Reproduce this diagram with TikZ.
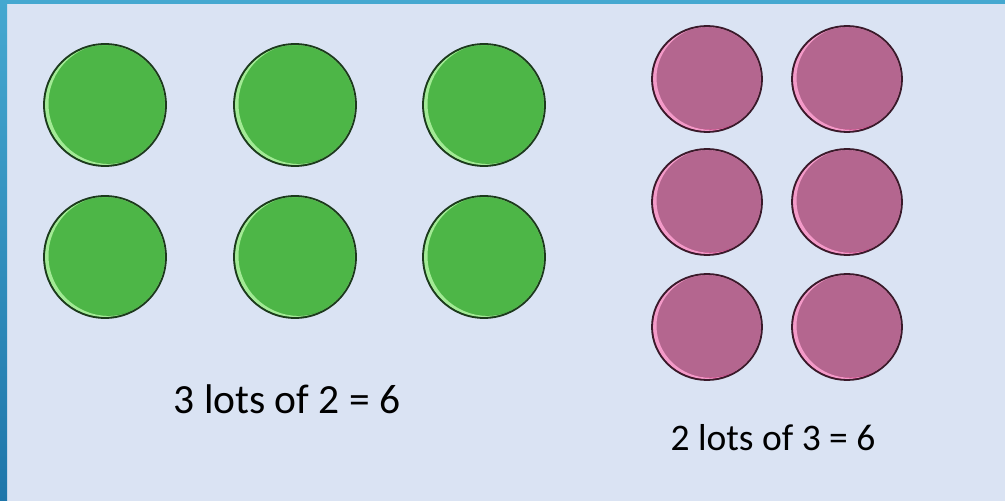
\documentclass[tikz,border=0pt]{standalone}
\usepackage{fontspec}
\setmainfont{Carlito}
\usetikzlibrary{shapes.geometric}
\definecolor{bgblue}{HTML}{DAE3F3}
\definecolor{framelight}{HTML}{45A8D0}
\definecolor{framedark}{HTML}{1E76AA}
\definecolor{countergreen}{HTML}{4DB647}
\definecolor{greenshine}{HTML}{A2EA95}
\definecolor{greenshade}{HTML}{3A9A36}
\definecolor{greenrim}{HTML}{1C3A1C}
\definecolor{counterpink}{HTML}{B4668F}
\definecolor{pinkshine}{HTML}{F39AC8}
\definecolor{pinkshade}{HTML}{C4407F}
\definecolor{pinkrim}{HTML}{3A1A2A}

\tikzset{
  greencounter/.style={circle, minimum size=122pt, inner sep=0pt,
    fill=countergreen, draw=greenrim, line width=1.8pt,
    path picture={
      \fill[greenshade, even odd rule] (path picture bounding box.center) circle[radius=61pt]
        ([shift={(2.5pt,2.5pt)}]path picture bounding box.center) circle[radius=61pt];
      \fill[greenshine, even odd rule] (path picture bounding box.center) circle[radius=60pt]
        ([shift={(3.5pt,1.2pt)}]path picture bounding box.center) circle[radius=60pt];}},
  pinkcounter/.style={ellipse, minimum width=110pt, minimum height=106pt, inner sep=0pt,
    fill=counterpink, draw=pinkrim, line width=1.8pt,
    path picture={
      \fill[pinkshade, even odd rule] (path picture bounding box.center) ellipse[x radius=55pt, y radius=53pt]
        ([shift={(2.5pt,2.5pt)}]path picture bounding box.center) ellipse[x radius=55pt, y radius=53pt];
      \fill[pinkshine, even odd rule] (path picture bounding box.center) ellipse[x radius=54pt, y radius=52pt]
        ([shift={(3.5pt,1.2pt)}]path picture bounding box.center) ellipse[x radius=54pt, y radius=52pt];}},
  lotslabel/.style={anchor=base, text=black}
}

\begin{document}
\begin{tikzpicture}[x=1pt,y=-1pt]
\useasboundingbox (0,0) rectangle (1005,501);
\fill[bgblue] (0,0) rectangle (1005,501);
\fill[framelight] (0,0) rectangle (1005,4);
\shade[top color=framelight, bottom color=framedark] (0,0) rectangle (7,501);
%
\node[greencounter] (g1) at (105,105) {};
\node[greencounter] (g2) at (295,105) {};
\node[greencounter] (g3) at (484,105) {};
\node[greencounter] (g4) at (105,257) {};
\node[greencounter] (g5) at (295,257) {};
\node[greencounter] (g6) at (484,257) {};
\node[lotslabel, font=\fontsize{41.5}{48}\selectfont] (lotsA) at (287,413) {3 lots of 2 = 6};
%
\node[pinkcounter] (p1) at (707,79) {};
\node[pinkcounter] (p2) at (847,79) {};
\node[pinkcounter] (p3) at (707,202) {};
\node[pinkcounter] (p4) at (847,202) {};
\node[pinkcounter] (p5) at (707,327) {};
\node[pinkcounter] (p6) at (847,327) {};
\node[lotslabel, font=\fontsize{37.5}{44}\selectfont] (lotsB) at (773,450) {2 lots of 3 = 6};
\end{tikzpicture}
\end{document}
